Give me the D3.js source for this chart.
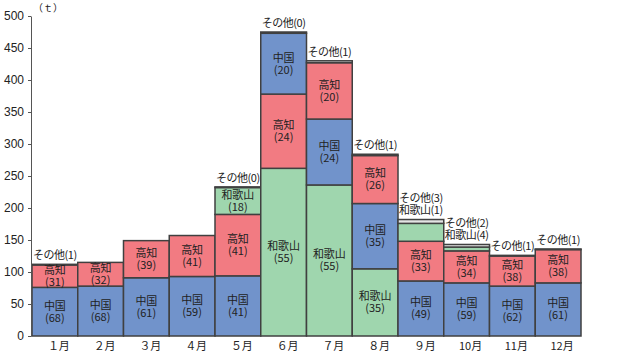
<!DOCTYPE html>
<html>
<head>
<meta charset="utf-8">
<script src="https://cdn.jsdelivr.net/npm/d3@7"></script>
<style>
  body { margin: 0; background: #fff; }
  svg text { font-family: "Noto Sans CJK JP", sans-serif; fill: #222; }
</style>
</head>
<body>
<svg width="625" height="353"></svg>
<script>
// months and series (t)
const months = ['１月', '２月', '３月', '４月', '５月', '６月', '７月', '８月', '９月', '10月', '11月', '12月']
const series = ['中国', '高知', '和歌山', 'その他']
const chugoku = [76, 78, 91, 93, 94, 95, 103, 102, 86, 83, 78, 83]
const kochi = [35, 37, 58, 64, 96, 116, 88, 75, 62, 50, 47, 52]
const wakayama = [0, 0, 0, 0, 42, 262, 236, 105, 28, 6, 0, 0]
const sonota = [1, 0, 0, 0, 1, 2, 3, 2, 6, 4, 1, 1]

// shares (%) printed in the labels
const chugokuPct = [68, 68, 61, 59, 41, 20, 24, 35, 49, 59, 62, 61]
const kochiPct = [31, 32, 39, 41, 41, 24, 20, 26, 33, 34, 38, 38]
const wakayamaPct = [null, null, null, null, 18, 55, 55, 35, 1, 4, null, null]
const sonotaPct = [1, null, null, null, 0, 0, 1, 1, 3, 2, 1, 1]

// stacking order bottom -> top for each month
const stackOrder = ['A', 'A', 'A', 'A', 'A', 'B', 'C', 'C', 'A', 'A', 'A', 'A']
const orders = {
  A: ['中国', '高知', '和歌山', 'その他'],
  B: ['和歌山', '高知', '中国', 'その他'],
  C: ['和歌山', '中国', '高知', 'その他']
}

const values = { '中国': chugoku, '高知': kochi, '和歌山': wakayama, 'その他': sonota }
const pcts = { '中国': chugokuPct, '高知': kochiPct, '和歌山': wakayamaPct, 'その他': sonotaPct }
const colors = { '中国': '#7193cb', '高知': '#f27b82', '和歌山': '#9fd6ae', 'その他': '#e4e4e4' }

const svg = d3.select('svg')

const x = d3.scaleBand().domain(months).range([32, 581]).padding(0)
const y = d3.scaleLinear().domain([0, 500]).range([336, 16])

// build segments
const segs = []
months.forEach((m, i) => {
  let acc = 0
  orders[stackOrder[i]].forEach(s => {
    const v = values[s][i]
    segs.push({ month: m, i, s, y0: acc, y1: acc + v, pct: pcts[s][i] })
    acc += v
  })
})

svg.append('g').selectAll('rect')
  .data(segs.filter(d => d.y1 > d.y0))
  .enter().append('rect')
  .attr('x', d => x(d.month))
  .attr('width', x.bandwidth())
  .attr('y', d => y(d.y1))
  .attr('height', d => y(d.y0) - y(d.y1))
  .attr('fill', d => colors[d.s])
  .attr('stroke', '#404040')
  .attr('stroke-width', 1.5)

// labels inside segments (name + share on two lines)
const inside = segs.filter(d => d.pct !== null && d.s !== 'その他' && d.pct >= 5)
const lg = svg.append('g').attr('font-size', 11).attr('text-anchor', 'middle')
inside.forEach(d => {
  const cx = x(d.month) + x.bandwidth() / 2
  const cy = (y(d.y0) + y(d.y1)) / 2
  const t = lg.append('text').attr('x', cx).attr('y', cy - 6).attr('dy', '0.35em')
  t.append('tspan').attr('x', cx).text(d.s)
  t.append('tspan').attr('x', cx).attr('dy', 12).text('(' + d.pct + ')')
})

// small shares printed above the bar, その他 on top
months.forEach((m, i) => {
  const top = d3.sum(series, s => values[s][i])
  const above = orders[stackOrder[i]]
    .filter(s => pcts[s][i] !== null && (s === 'その他' || pcts[s][i] < 5))
  above.forEach((s, k) => {
    lg.append('text')
      .attr('x', x(m) + x.bandwidth() / 2)
      .attr('y', y(top) - 9 - k * 12)
      .attr('dy', '0.35em')
      .attr('letter-spacing', -0.5)
      .text(s + '(' + pcts[s][i] + ')')
  })
})

// y axis
const yAxis = svg.append('g')
  .attr('transform', 'translate(31,0)')
  .call(d3.axisLeft(y).tickValues(d3.range(0, 501, 50)).tickSize(3).tickSizeOuter(0).tickPadding(4))
yAxis.selectAll('text').style('font-family', '"Liberation Sans", Arial, sans-serif').attr('font-size', 12).style('fill', '#222')
yAxis.selectAll('line, path').attr('stroke', '#555')

svg.append('text').attr('x', 33).attr('y', 12).attr('font-size', 10).text('（ｔ）')

// month labels
svg.append('g').attr('font-size', 11).attr('text-anchor', 'middle')
  .selectAll('text').data(months).enter().append('text')
  .attr('x', d => x(d) + x.bandwidth() / 2 + 4)
  .attr('y', 346)
  .attr('dy', '0.35em')
  .text(d => d)
</script>
</body>
</html>
